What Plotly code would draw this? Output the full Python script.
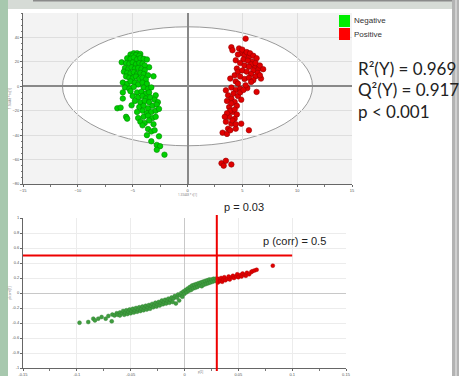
import plotly.graph_objects as go

W, H = 459, 376

# ---------------- Scores plot data (t[1], to[1]) ----------------
neg_scores = [
    (-5.2,26),(-4.9,27),(-4.6,27),(-4.3,26.5),(-5.0,25),(-4.7,25.5),(-4.4,25),
    (-5.5,23),(-5.2,22.5),(-4.9,23.5),(-4.6,22),(-4.3,23),(-4.0,22.5),(-3.7,22),(-3.5,15.6),
    (-6.0,19.7),(-5.6,19),(-5.3,18.5),(-5.0,19.5),(-4.7,18),(-4.4,19),(-4.1,18.5),(-3.9,17),
    (-5.7,15),(-5.4,14),(-5.1,15.5),(-4.8,14.5),(-4.5,15),(-4.2,14),(-3.9,13),
    (-5.8,12),(-5.5,11),(-5.2,10.5),(-4.9,11.5),(-4.6,10),(-4.3,11),(-4.0,10),(-3.6,9),
    (-5.6,8),(-5.3,7),(-5.0,6.5),(-4.7,8),(-4.4,6),(-4.1,7),(-3.8,5.5),(-3.1,8.2),
    (-5.9,3),(-5.5,2),(-5.2,4),(-4.8,3),(-4.5,1.5),(-4.1,3),(-3.7,2),
    (-5.7,-1),(-5.3,-2),(-4.9,-0.5),(-4.0,-1),(-3.6,-2),(-3.3,-0.9),
    (-5.9,-5),(-5.2,-4),(-4.6,-5),(-4.2,-4.5),(-3.8,-6),(-3.5,-5),(-2.9,-7.4),
    (-5.0,-8),(-4.5,-9),(-4.1,-8),(-3.8,-10),(-3.4,-9),(-5.9,-10),
    (-4.8,-12),(-4.3,-13),(-3.9,-12),(-3.5,-13),(-3.0,-11),(-2.7,-13),
    (-6.4,-18),(-6.1,-17.5),(-5.1,-15.6),(-4.4,-17),(-4.0,-16),(-3.6,-18),(-3.2,-16),(-2.8,-15),
    (-4.6,-21),(-4.1,-20),(-3.7,-22),(-3.3,-21),(-2.9,-20),(-2.6,-18.5),
    (-5.6,-25),(-5.5,-26.5),(-4.5,-26),(-4.0,-25),(-3.6,-24),(-3.2,-26),(-2.9,-25),
    (-4.3,-29),(-3.9,-30),(-3.5,-28),(-3.1,-31),(-4.1,-32),
    (-3.6,-35),(-3.3,-37),(-3.0,-36),
    (-3.7,-40),(-3.3,-45),(-2.6,-41),(-2.8,-48),(-2.5,-49),(-2.8,-52),(-2.1,-56),
]
pos_scores = [
    (5.3,39),(4.0,32),(4.1,29.5),(4.7,31),(4.9,27),(5.2,25.4),(5.6,24),(5.9,20),
    (6.1,15.8),(6.5,14.5),(6.7,6.3),(6.3,-4.6),(5.45,-1.5),(3.9,6.3),(4.3,9),(4.5,14.5),
    (4.4,21.3),(5.0,30),(5.4,28),(5.7,27),(6.0,25),(6.3,23),(4.6,26),(5.1,22),
    (5.5,21),(5.8,18),(6.2,19),(6.6,17),(4.8,19),(5.2,17),(5.6,16),(6.0,13),
    (6.4,11),(4.6,12),(5.0,13),(5.4,12),(5.8,10),(6.2,8),(4.8,8),(5.2,6),
    (5.6,7),(6.0,5),(4.4,4),(5.8,3.5),(4.6,2.2),(5.3,0.8),(6.6,9),(6.9,14),
    (3.5,-3.3),(3.7,-7.4),(4.0,-10),(4.3,-12.8),(3.8,-17),(4.1,-21),(3.8,-25),(4.3,-26.5),
    (4.0,-30.6),(3.7,-34.7),(3.2,-38),(3.6,-39),(4.4,-34.7),(4.9,-30.6),(5.6,-36),
    (4.0,-1),(4.4,-3),(4.8,-2),(4.2,-6),(4.6,-8),(3.6,-12),(4.0,-14),(4.5,-16),
    (3.9,-20),(4.3,-19),(3.6,-22),(4.5,-23),(4.1,-28),(3.5,-29),(4.4,-31),(3.9,-36),
    (4.8,-5),(5.1,-3),(4.9,-11),(3.4,-25),
    (3.1,-63),(3.3,-65),(3.5,-61),(4.0,-64),
]

# ---------------- S-plot data (p[1], p(corr)[1]) ----------------
neg_s = [
    (-0.0975,-0.396),(-0.0894,-0.387),(-0.0847,-0.342),(-0.0832,-0.365),(-0.0801,-0.342),
    (-0.077,-0.32),(-0.0732,-0.342),(-0.0707,-0.306),(-0.0676,-0.378),(-0.067,-0.288),
    (-0.065,-0.30),(-0.063,-0.27),(-0.062,-0.29),(-0.060,-0.26),(-0.060,-0.30),(-0.058,-0.27),
    (-0.057,-0.24),(-0.056,-0.29),(-0.055,-0.26),(-0.054,-0.23),(-0.053,-0.28),(-0.052,-0.25),
    (-0.051,-0.22),(-0.050,-0.27),(-0.049,-0.24),(-0.048,-0.21),(-0.047,-0.26),(-0.046,-0.23),
    (-0.045,-0.20),(-0.044,-0.25),(-0.043,-0.22),(-0.042,-0.19),(-0.041,-0.24),(-0.040,-0.21),
    (-0.039,-0.18),(-0.038,-0.23),(-0.037,-0.20),(-0.036,-0.17),(-0.035,-0.22),(-0.034,-0.19),
    (-0.033,-0.16),(-0.032,-0.21),(-0.031,-0.17),(-0.030,-0.145),(-0.029,-0.19),(-0.028,-0.16),
    (-0.027,-0.13),(-0.026,-0.18),(-0.025,-0.15),(-0.024,-0.12),(-0.023,-0.165),(-0.022,-0.13),
    (-0.021,-0.10),(-0.020,-0.15),(-0.019,-0.12),(-0.018,-0.09),(-0.017,-0.14),(-0.016,-0.10),
    (-0.015,-0.075),(-0.014,-0.13),(-0.013,-0.09),(-0.012,-0.06),(-0.011,-0.12),(-0.010,-0.07),
    (-0.009,-0.04),(-0.008,-0.14),(-0.007,-0.06),(-0.006,-0.02),(-0.005,-0.10),(-0.004,-0.03),
    (-0.003,0.00),(-0.002,-0.05),(-0.001,0.02),(0.000,-0.01),(0.001,0.04),(0.002,0.01),
    (0.003,0.06),(0.004,0.03),(0.005,0.08),(0.006,0.04),(0.007,0.10),(0.008,0.06),
    (0.009,0.11),(0.010,0.07),(0.011,0.12),(0.012,0.08),(0.013,0.13),(0.014,0.10),
    (0.015,0.14),(0.016,0.09),(0.017,0.15),(0.018,0.11),(0.019,0.16),(0.020,0.12),
    (0.021,0.17),(0.022,0.13),(0.023,0.18),(0.024,0.14),(0.025,0.18),(0.026,0.15),
    (0.027,0.19),(0.028,0.16),(0.029,0.19),(0.030,0.17),
]
pos_s = [
    (0.031,0.14),(0.031,0.19),(0.033,0.16),(0.034,0.20),(0.035,0.15),(0.036,0.18),
    (0.037,0.21),(0.038,0.17),(0.040,0.19),(0.041,0.22),(0.042,0.18),(0.044,0.21),
    (0.045,0.23),(0.046,0.20),(0.048,0.22),(0.049,0.25),(0.050,0.21),(0.052,0.24),
    (0.053,0.22),(0.054,0.26),(0.056,0.24),(0.057,0.23),(0.058,0.27),(0.060,0.25),
    (0.062,0.28),(0.063,0.29),(0.065,0.30),(0.067,0.31),(0.082,0.365),
]

score_x_ticks = [-15, -10, -5, 0, 5, 10, 15]
score_y_ticks = [-80, -60, -40, -20, 0, 20, 40]
s_x_ticks = [-0.15, -0.1, -0.05, 0, 0.05, 0.1, 0.15]
s_x_labels = ["-0.15", "-0.1", "-0.05", "0", "0.05", "0.1", "0.15"]
s_y_ticks = [-1, -0.8, -0.6, -0.4, -0.2, 0, 0.2, 0.4, 0.6, 0.8, 1]
s_y_labels = ["-1", "-0.8", "-0.6", "-0.4", "-0.2", "0", "0.2", "0.4", "0.6", "0.8", "1"]

legend_labels = ["Negative", "Positive"]
stats_text = ["R\u00b2(Y) = 0.969", "Q\u00b2(Y) = 0.917", "p < 0.001"]
p_cut = 0.03
pcorr_cut = 0.5


def px_x(p):
    return p / W


def px_y(p):
    return 1 - p / H


fig = go.Figure()

fig.add_trace(go.Scatter(
    x=[p[0] for p in neg_scores], y=[p[1] for p in neg_scores], mode="markers",
    marker=dict(size=5.5, color="#00d000", line=dict(color="#008a00", width=0.6)),
    xaxis="x", yaxis="y", showlegend=False))
fig.add_trace(go.Scatter(
    x=[p[0] for p in pos_scores], y=[p[1] for p in pos_scores], mode="markers",
    marker=dict(size=5.5, color="#e00000", line=dict(color="#950000", width=0.6)),
    xaxis="x", yaxis="y", showlegend=False))
fig.add_trace(go.Scatter(
    x=[p[0] for p in neg_s], y=[p[1] for p in neg_s], mode="markers",
    marker=dict(size=4, color="#3f9d3f", line=dict(color="#2f7f2f", width=0.4)),
    xaxis="x2", yaxis="y2", showlegend=False))
fig.add_trace(go.Scatter(
    x=[p[0] for p in pos_s], y=[p[1] for p in pos_s], mode="markers",
    marker=dict(size=4, color="#e00000", line=dict(color="#b00000", width=0.4)),
    xaxis="x2", yaxis="y2", showlegend=False))

tickfont = dict(size=4, color="#555555", family="Liberation Sans")
common = dict(showgrid=True, gridwidth=1, showline=True, linecolor="#666666", linewidth=1,
              ticks="outside", ticklen=2, tickcolor="#666666", tickfont=tickfont,
              zeroline=True, fixedrange=True, automargin=False)

fig.update_layout(
    width=W, height=H, margin=dict(l=0, r=0, t=0, b=0, autoexpand=False),
    paper_bgcolor="white", plot_bgcolor="#f3f3f3",
    xaxis=dict(domain=[px_x(23), px_x(352)], range=[-15, 15], tickvals=score_x_ticks,
               gridcolor="#dedede", zerolinecolor="#888888", zerolinewidth=1.5,
               anchor="y", title=dict(text="1.33448 * t[1]", font=dict(size=3, color="#777"), standoff=1),
               minor=dict(ticks="outside", ticklen=1.5, tickcolor="#777", dtick=2.5, showgrid=False),
               **common),
    yaxis=dict(domain=[px_y(184), px_y(13)], range=[-80, 60], tickvals=score_y_ticks,
               gridcolor="#dedede", zerolinecolor="#888888", zerolinewidth=1.5,
               anchor="x", title=dict(text="1.16448 * to[1]", font=dict(size=3, color="#777"), standoff=1),
               minor=dict(ticks="outside", ticklen=1.5, tickcolor="#777", dtick=5, showgrid=False),
               **common),
    xaxis2=dict(domain=[px_x(23), px_x(346)], range=[-0.15, 0.15], tickvals=s_x_ticks,
                ticktext=s_x_labels, gridcolor="#ececec", zerolinecolor="#c8c8c8", zerolinewidth=1,
                anchor="y2",
                minor=dict(ticks="outside", ticklen=1.5, tickcolor="#777", dtick=0.025, showgrid=False),
                **common),
    yaxis2=dict(domain=[px_y(368), px_y(218)], range=[-1, 1], tickvals=s_y_ticks,
                ticktext=s_y_labels, gridcolor="#ececec", zerolinecolor="#c8c8c8", zerolinewidth=1,
                anchor="x2", title=dict(text="p(corr)[1]", font=dict(size=3, color="#777"), standoff=1),
                **common),
)

shapes = []
# screenshot frame
shapes.append(dict(type="rect", xref="paper", yref="paper", x0=0, x1=1, y0=px_y(9), y1=1,
                   fillcolor="#d6dbd6", line=dict(width=0), layer="below"))
shapes.append(dict(type="rect", xref="paper", yref="paper", x0=px_x(33), x1=1, y0=px_y(1.5), y1=1,
                   fillcolor="#8a8a8a", line=dict(width=0), layer="below"))
shapes.append(dict(type="rect", xref="paper", yref="paper", x0=0, x1=px_x(8), y0=0, y1=1,
                   fillcolor="#a7c8ae", line=dict(width=0), layer="below"))
shapes.append(dict(type="rect", xref="paper", yref="paper", x0=px_x(452), x1=1, y0=0, y1=1,
                   fillcolor="#b3b3b3", line=dict(width=0), layer="below"))
shapes.append(dict(type="rect", xref="paper", yref="paper", x0=px_x(455), x1=px_x(457), y0=0, y1=1,
                   fillcolor="#d0d0d0", line=dict(width=0), layer="below"))
# white plot bg for S-plot
shapes.append(dict(type="rect", xref="x2 domain", yref="y2 domain", x0=0, x1=1, y0=0, y1=1,
                   fillcolor="white", line=dict(width=0), layer="below"))
# confidence ellipse (Hotelling's T2)
shapes.append(dict(type="circle", xref="x", yref="y", x0=-11.4, x1=11.4, y0=-48.7, y1=48.7,
                   fillcolor="white", line=dict(color="#9a9a9a", width=1), layer="below"))
# legend squares
shapes.append(dict(type="rect", xref="paper", yref="paper", x0=px_x(339), x1=px_x(350),
                   y0=px_y(27), y1=px_y(15), fillcolor="#00ee00", line=dict(width=0)))
shapes.append(dict(type="rect", xref="paper", yref="paper", x0=px_x(339), x1=px_x(350),
                   y0=px_y(40), y1=px_y(28), fillcolor="#ff0000", line=dict(width=0)))
# cut-off lines in S-plot
shapes.append(dict(type="line", xref="x2", yref="y2", x0=-0.15, x1=0.1, y0=pcorr_cut, y1=pcorr_cut,
                   line=dict(color="#ee0000", width=2)))
shapes.append(dict(type="line", xref="x2", yref="paper", x0=p_cut, x1=p_cut, y0=px_y(371), y1=px_y(215),
                   line=dict(color="#ee0000", width=2)))
fig.update_layout(shapes=shapes)

ann = []
ann.append(dict(text=legend_labels[0], xref="paper", yref="paper", x=px_x(352), y=px_y(21),
                xanchor="left", yanchor="middle", showarrow=False,
                font=dict(size=8, color="#333333", family="Liberation Sans")))
ann.append(dict(text=legend_labels[1], xref="paper", yref="paper", x=px_x(352), y=px_y(34),
                xanchor="left", yanchor="middle", showarrow=False,
                font=dict(size=8, color="#333333", family="Liberation Sans")))
for i, t in enumerate(stats_text):
    ann.append(dict(text=t, xref="paper", yref="paper", x=px_x(356), y=px_y(68 + 21.5 * i),
                    xanchor="left", yanchor="middle", showarrow=False,
                    font=dict(size=17, color="#222222", family="Lato")))
ann.append(dict(text="p = 0.03", xref="paper", yref="paper", x=px_x(244), y=px_y(207),
                xanchor="center", yanchor="middle", showarrow=False,
                font=dict(size=11, color="#222222", family="Liberation Sans")))
ann.append(dict(text="p (corr) = 0.5", xref="paper", yref="paper", x=px_x(294), y=px_y(241),
                xanchor="center", yanchor="middle", showarrow=False,
                font=dict(size=11, color="#222222", family="Liberation Sans")))
# S-plot x-axis title, tucked under the tick labels
ann.append(dict(text="p[1]", xref="paper", yref="paper", x=px_x(196), y=0,
                xanchor="left", yanchor="bottom", showarrow=False,
                font=dict(size=3, color="#777777", family="Liberation Sans")))
fig.update_layout(annotations=ann)

fig.write_html("out.html", config={"displayModeBar": False},
               post_script="document.body.style.margin='0';document.body.style.overflow='hidden';")
